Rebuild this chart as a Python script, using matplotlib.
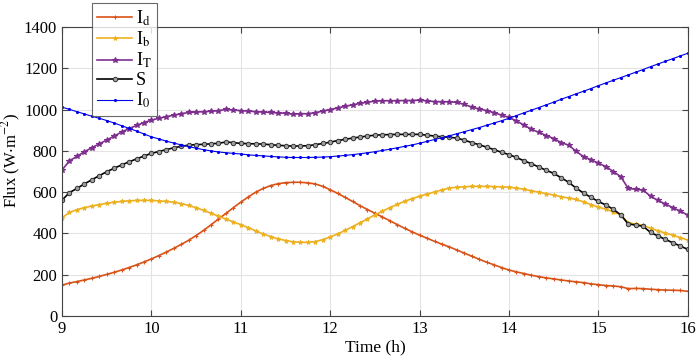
import numpy as np
import matplotlib
matplotlib.use("Agg")
import matplotlib.pyplot as plt

plt.rcParams['font.family'] = ['Liberation Serif', 'DejaVu Serif']
plt.rcParams['mathtext.fontset'] = 'stix'

time_h = np.linspace(9, 16, 85)

I_d = [150, 160, 167, 175, 183, 192, 202, 212, 223, 235, 248, 262,
       277, 293, 310, 328, 347, 367, 390, 415, 442, 470, 497, 525,
       552, 577, 600, 618, 632, 641, 646, 648, 648, 645, 640, 628,
       612, 594, 575, 555, 535, 516, 498, 480, 462, 443, 425, 408,
       392, 377, 362, 348, 335, 320, 305, 290, 275, 261, 248, 235,
       223, 214, 206, 198, 191, 185, 180, 175, 170, 166, 162, 156,
       152, 148, 146, 142, 133, 134, 133, 130, 128, 126, 125, 124, 120]

I_b = [476, 502, 515, 525, 533, 540, 546, 551, 555, 558, 560, 560,
       560, 558, 555, 551, 545, 536, 525, 512, 498, 484, 470, 456,
       443, 428, 413, 398, 385, 374, 366, 360, 357, 357, 361, 370,
       383, 398, 415, 433, 452, 471, 490, 508, 525, 541, 556, 569,
       580, 591, 601, 611, 620, 624, 626, 628, 628, 628, 627, 626,
       624, 620, 614, 607, 600, 593, 586, 578, 572, 565, 553, 540,
       528, 517, 505, 490, 452, 445, 440, 425, 413, 402, 392, 380, 368]

I_T = [707, 752, 773, 796, 815, 834, 852, 872, 891, 908, 923, 937,
       949, 958, 966, 973, 980, 986, 988, 990, 992, 995, 1001, 998,
       995, 993, 990, 988, 986, 984, 982, 978, 980, 980, 985, 993,
       1000, 1008, 1016, 1023, 1030, 1036, 1041, 1043, 1043, 1043, 1044, 1044,
       1046, 1042, 1039, 1038, 1038, 1035, 1025, 1012, 1003, 995, 985, 973,
       962, 945, 925, 905, 890, 874, 860, 840, 828, 798, 772, 757,
       740, 724, 700, 675, 618, 614, 610, 580, 560, 542, 525, 508, 489]

S = [561, 598, 618, 640, 660, 680, 699, 716, 732, 747, 761, 775,
     788, 797, 806, 815, 822, 828, 830, 832, 834, 837, 843, 840,
     836, 835, 834, 833, 830, 827, 825, 823, 824, 825, 830, 836,
     842, 850, 856, 862, 867, 872, 876, 878, 879, 880, 880, 880,
     880, 876, 872, 868, 866, 862, 852, 840, 830, 818, 806, 793,
     782, 768, 752, 738, 722, 706, 691, 670, 648, 620, 596, 575,
     555, 538, 517, 490, 446, 441, 435, 405, 388, 371, 355, 339, 323]

I_0 = [1012, 1001, 990, 979, 968, 958, 947, 935, 922, 909, 896, 882,
       868, 858, 847, 838, 829, 821, 813, 806, 800, 795, 791, 788,
       785, 781, 778, 776, 773, 771, 769, 768, 768, 768, 769, 770,
       772, 775, 778, 782, 786, 791, 796, 802, 808, 815, 822, 829,
       837, 846, 855, 864, 873, 883, 893, 903, 913, 924, 935, 946,
       958, 971, 984, 997, 1010, 1023, 1036, 1050, 1063, 1076, 1089, 1102,
       1116, 1129, 1142, 1155, 1168, 1181, 1194, 1208, 1221, 1234, 1247, 1260, 1273]

labels = [r'I$_\mathrm{d}$', r'I$_\mathrm{b}$', r'I$_\mathrm{T}$', 'S', r'I$_\mathrm{0}$']

fig = plt.figure(figsize=(6.99, 3.6), dpi=100)
ax = fig.add_axes([0.0887, 0.122, 0.8953, 0.803])

ax.plot(time_h, I_d, color='#D95319', lw=1.2, marker='+', ms=3, mew=0.8, label=labels[0])
ax.plot(time_h, I_b, color='#EDB120', lw=1.2, marker='*', ms=3.5, mew=0.6, label=labels[1])
ax.plot(time_h, I_T, color='#7E2F8E', lw=1.2, marker='*', ms=4.2, mew=0.8, label=labels[2])
ax.plot(time_h, S, color='black', lw=1.2, marker='o', ms=3.2, mfc='#a0a0a0', mec='#333333',
        mew=0.7, label=labels[3])
ax.plot(time_h, I_0, color='#0000EE', lw=0.8, marker='.', ms=2.5, label=labels[4])

ax.set_xlim(9, 16)
ax.set_ylim(0, 1400)
ax.set_xticks(range(9, 17))
ax.set_yticks(range(0, 1401, 200))
ax.grid(True, color='#e3e3e3', lw=0.8)
ax.set_axisbelow(True)
ax.tick_params(direction='in', top=True, right=True, labelsize=12, length=4, color='#444444')
for sp in ax.spines.values():
    sp.set_color('#444444')
    sp.set_linewidth(0.8)

ax.set_xlabel('Time (h)', fontsize=12.5, labelpad=2)
ax.set_ylabel(r'Flux (W$\cdot$m$^{-2}$)', fontsize=12)
ax.yaxis.set_label_coords(-0.062, 0.54)

leg = ax.legend(loc='upper left', bbox_to_anchor=(92 / 699, 1 - 3 / 360),
                bbox_transform=fig.transFigure, fontsize=13, frameon=True,
                fancybox=False, edgecolor='#444444', handlelength=1.9,
                handletextpad=0.25, labelspacing=0.1, borderpad=0.3,
                borderaxespad=0)
leg.get_frame().set_linewidth(0.8)
leg.set_zorder(5)

fig.savefig('out.png', dpi=100)
